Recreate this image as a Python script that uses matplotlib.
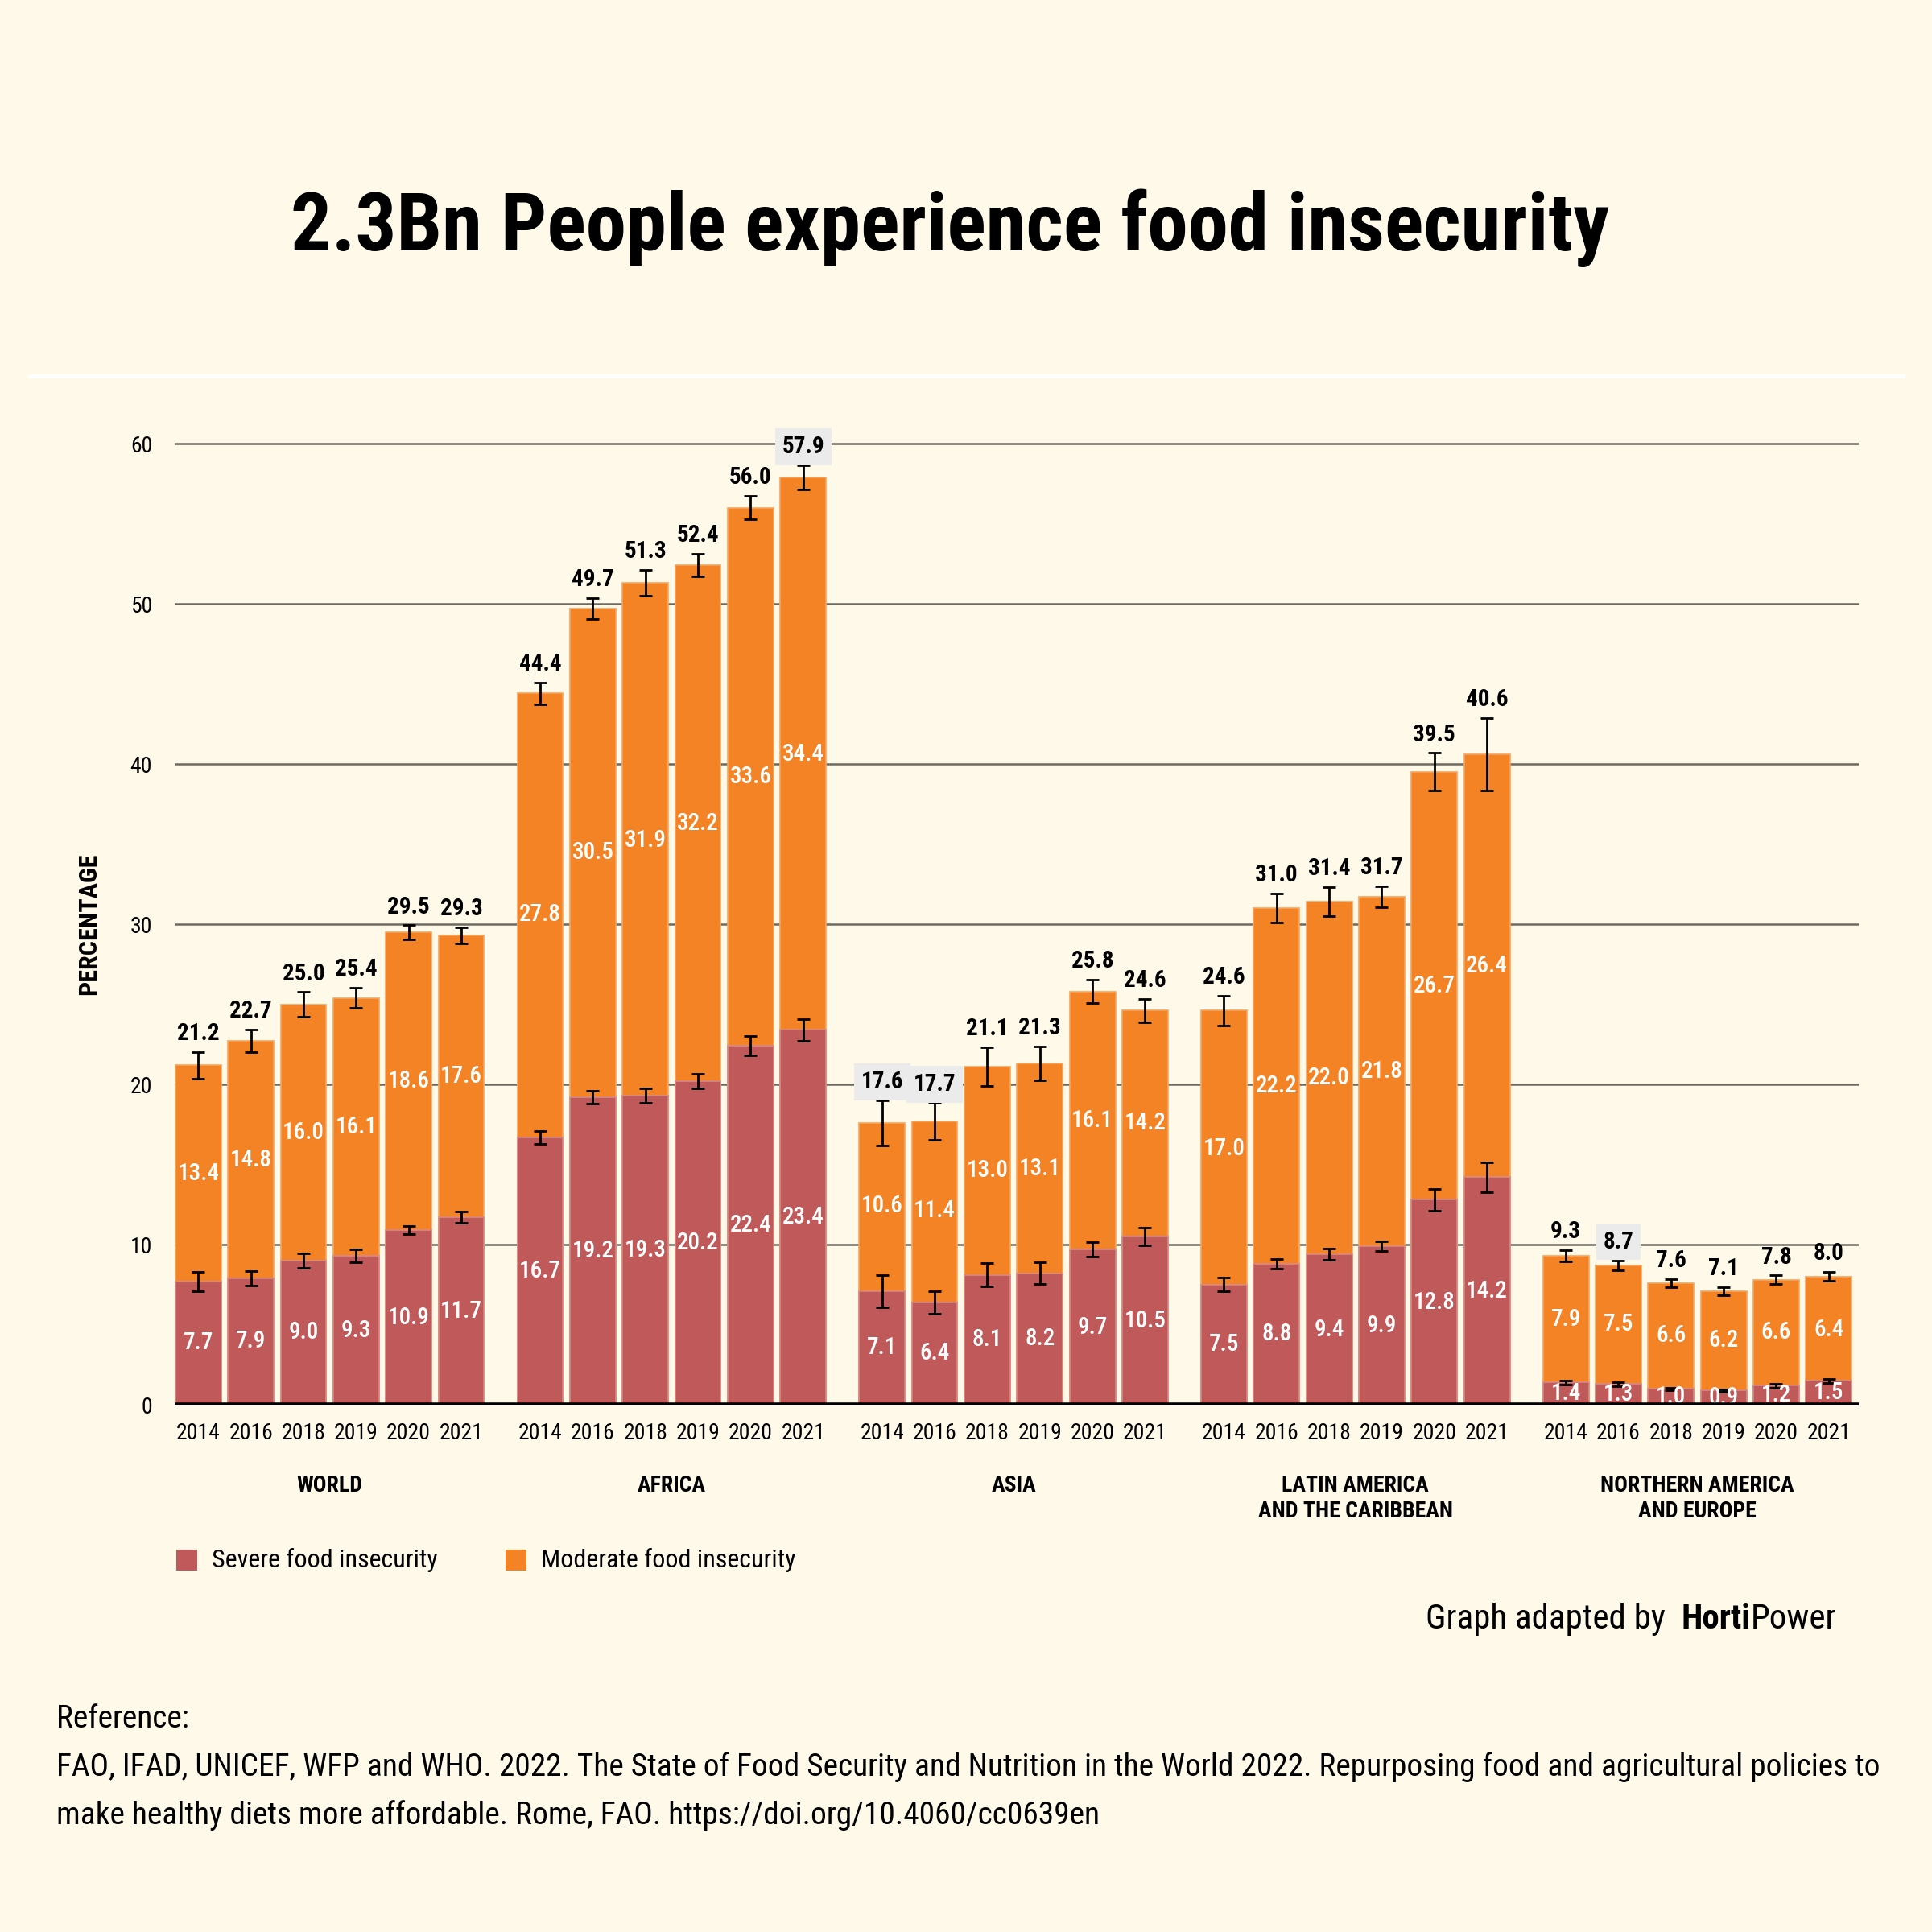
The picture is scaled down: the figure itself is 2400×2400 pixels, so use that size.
import matplotlib
matplotlib.use("Agg")
import matplotlib.pyplot as plt
from matplotlib import font_manager as fm
from matplotlib.patches import Rectangle
from matplotlib.lines import Line2D
import matplotlib.transforms as mtransforms
import numpy as np

# ---------------- data ----------------
years = ["2014", "2016", "2018", "2019", "2020", "2021"]
regions = ["WORLD", "AFRICA", "ASIA", "LATIN AMERICA\nAND THE CARIBBEAN", "NORTHERN AMERICA\nAND EUROPE"]

severe_world = [7.7, 7.9, 9.0, 9.3, 10.9, 11.7]
severe_africa = [16.7, 19.2, 19.3, 20.2, 22.4, 23.4]
severe_asia = [7.1, 6.4, 8.1, 8.2, 9.7, 10.5]
severe_lac = [7.5, 8.8, 9.4, 9.9, 12.8, 14.2]
severe_nae = [1.4, 1.3, 1.0, 0.9, 1.2, 1.5]

moderate_world = [13.4, 14.8, 16.0, 16.1, 18.6, 17.6]
moderate_africa = [27.8, 30.5, 31.9, 32.2, 33.6, 34.4]
moderate_asia = [10.6, 11.4, 13.0, 13.1, 16.1, 14.2]
moderate_lac = [17.0, 22.2, 22.0, 21.8, 26.7, 26.4]
moderate_nae = [7.9, 7.5, 6.6, 6.2, 6.6, 6.4]

total_world = [21.2, 22.7, 25.0, 25.4, 29.5, 29.3]
total_africa = [44.4, 49.7, 51.3, 52.4, 56.0, 57.9]
total_asia = [17.6, 17.7, 21.1, 21.3, 25.8, 24.6]
total_lac = [24.6, 31.0, 31.4, 31.7, 39.5, 40.6]
total_nae = [9.3, 8.7, 7.6, 7.1, 7.8, 8.0]

# half-width of the uncertainty ranges
err_total_world = [0.83, 0.7, 0.76, 0.63, 0.43, 0.49]
err_total_africa = [0.7, 0.66, 0.82, 0.7, 0.73, 0.74]
err_total_asia = [1.4, 1.15, 1.2, 1.07, 0.72, 0.72]
err_total_lac = [0.92, 0.92, 0.92, 0.65, 1.18, 2.25]
err_total_nae = [0.36, 0.32, 0.24, 0.24, 0.27, 0.28]

err_severe_world = [0.6, 0.45, 0.46, 0.42, 0.26, 0.34]
err_severe_africa = [0.4, 0.39, 0.46, 0.47, 0.6, 0.69]
err_severe_asia = [1.0, 0.7, 0.73, 0.68, 0.46, 0.57]
err_severe_lac = [0.43, 0.32, 0.35, 0.31, 0.69, 0.93]
err_severe_nae = [0.12, 0.12, 0.08, 0.08, 0.12, 0.12]

# labels shown on a light grey box
highlighted = [("AFRICA", "2021"), ("ASIA", "2014"), ("ASIA", "2016"),
               ("NORTHERN AMERICA\nAND EUROPE", "2016")]

severe = [severe_world, severe_africa, severe_asia, severe_lac, severe_nae]
moderate = [moderate_world, moderate_africa, moderate_asia, moderate_lac, moderate_nae]
total = [total_world, total_africa, total_asia, total_lac, total_nae]
err_total = [err_total_world, err_total_africa, err_total_asia, err_total_lac, err_total_nae]
err_severe = [err_severe_world, err_severe_africa, err_severe_asia, err_severe_lac, err_severe_nae]

# ---------------- style ----------------
BG = "#FEF9E9"
ORANGE = "#F38324"
RED = "#C05A5A"
BOXGREY = "#EBEBEB"

avail = {f.name for f in fm.fontManager.ttflist}
COND = None
for cand in ["Liberation Sans Narrow", "Roboto Condensed", "Open Sans Condensed",
             "Noto Sans Condensed", "Arial Narrow"]:
    if cand in avail:
        COND = cand
        break
if COND is None:
    COND = "DejaVu Sans"

plt.rcParams["font.family"] = [COND, "DejaVu Sans"]
plt.rcParams["font.stretch"] = "condensed"

fig = plt.figure(figsize=(12, 12), dpi=200, facecolor=BG)
ax = fig.add_axes([0.0904, 0.2729, 0.9621 - 0.0904, 0.7729 - 0.2729])
ax.set_facecolor(BG)

n_years = len(years)
period = n_years + 0.5
width = 0.87

xticks = []
xlabels = []
for g, reg in enumerate(regions):
    xs = g * period + np.arange(n_years)
    xticks.extend(xs)
    xlabels.extend(years)
    ax.bar(xs, total[g], width=width, color=ORANGE, edgecolor="#F6A55E", linewidth=0.6, zorder=2)
    ax.bar(xs, severe[g], width=width, color=RED, edgecolor="#D88A84", linewidth=0.6, zorder=3)
    ax.errorbar(xs, total[g], yerr=err_total[g], fmt="none", ecolor="black",
                elinewidth=1.0, capsize=2.8, capthick=1.0, zorder=5)
    ax.errorbar(xs, severe[g], yerr=err_severe[g], fmt="none", ecolor="black",
                elinewidth=1.0, capsize=2.8, capthick=1.0, zorder=5)
    for i, x in enumerate(xs):
        s = severe[g][i]
        m = moderate[g][i]
        t = total[g][i]
        ax.text(x, s / 2, f"{s:.1f}", ha="center", va="center", color="white",
                fontsize=10.5, fontweight="medium", zorder=6, clip_on=False)
        ax.text(x, s + m / 2, f"{m:.1f}", ha="center", va="center", color="white",
                fontsize=10.5, fontweight="medium", zorder=6)
        box = None
        if (reg, years[i]) in highlighted:
            box = dict(boxstyle="square,pad=0.3", facecolor=BOXGREY, edgecolor="none")
        ax.text(x, t + err_total[g][i] + 1.15, f"{t:.1f}", ha="center", va="center",
                color="black", fontsize=10.5, fontweight="bold", zorder=7, clip_on=False,
                bbox=box)
    # region label
    trans = mtransforms.blended_transform_factory(ax.transData, fig.transFigure)
    ax.text(xs.mean(), 0.2368, reg, transform=trans, ha="center", va="top",
            fontsize=10, fontweight="bold", linespacing=1.25)

ax.set_xlim(-0.45, (len(regions) - 1) * period + n_years - 1 + 0.57)
ax.set_ylim(0, 60.3)
ax.set_xticks(xticks)
ax.set_xticklabels(xlabels, fontsize=10)
ax.set_yticks(range(0, 61, 10))
ax.set_yticklabels([str(v) for v in range(0, 61, 10)], fontsize=10)
ax.tick_params(axis="both", length=0)
ax.tick_params(axis="y", pad=10)
ax.tick_params(axis="x", pad=8)
for sp in ax.spines.values():
    sp.set_visible(False)
ax.yaxis.grid(True, color="#6F6A60", linewidth=0.9, zorder=0)
ax.set_axisbelow(True)
ax.axhline(0, color="black", linewidth=2.0, zorder=8)

fig.text(0.046, 0.5217, "PERCENTAGE", rotation=90, ha="center", va="center",
         fontsize=11.5, fontweight="bold")

# title
fig.text(0.4917, 0.882, "2.3Bn People experience food insecurity", ha="center",
         va="center", fontsize=36.3, fontweight="bold")

# white separator
fig.add_artist(Line2D([0.0153, 0.985], [0.8054, 0.8054], transform=fig.transFigure,
                      color="white", linewidth=1.8))

# legend
legend_items = [("Severe food insecurity", RED, 0.0913), ("Moderate food insecurity", ORANGE, 0.2617)]
for label, col, x0 in legend_items:
    fig.add_artist(Rectangle((x0, 0.1870), 0.0108, 0.0108, transform=fig.transFigure,
                             facecolor=col, edgecolor="none"))
    fig.text(x0 + 0.0183, 0.1924, label, ha="left", va="center", fontsize=11.5)

# credit
t_power = fig.text(0.9504, 0.157, "Power", ha="right", va="baseline", fontsize=15.5)
t_horti = ax.annotate("Horti", xy=(0, 0.157), xycoords=(t_power, "figure fraction"),
                      ha="right", va="baseline", fontsize=15.5, fontweight="bold",
                      annotation_clip=False)
ax.annotate("Graph adapted by  ", xy=(0, 0.157), xycoords=(t_horti, "figure fraction"),
            ha="right", va="baseline", fontsize=15.5, annotation_clip=False)

# reference
ref_lines = [
    "Reference:",
    "FAO, IFAD, UNICEF, WFP and WHO. 2022. The State of Food Security and Nutrition in the World 2022. Repurposing food and agricultural policies to",
    "make healthy diets more affordable. Rome, FAO. https://doi.org/10.4060/cc0639en",
]
for k, line in enumerate(ref_lines):
    fig.text(0.0293, 0.1104 - k * 0.025, line, ha="left", va="center", fontsize=14.2)

fig.savefig("out.png", dpi=200, facecolor=BG)
